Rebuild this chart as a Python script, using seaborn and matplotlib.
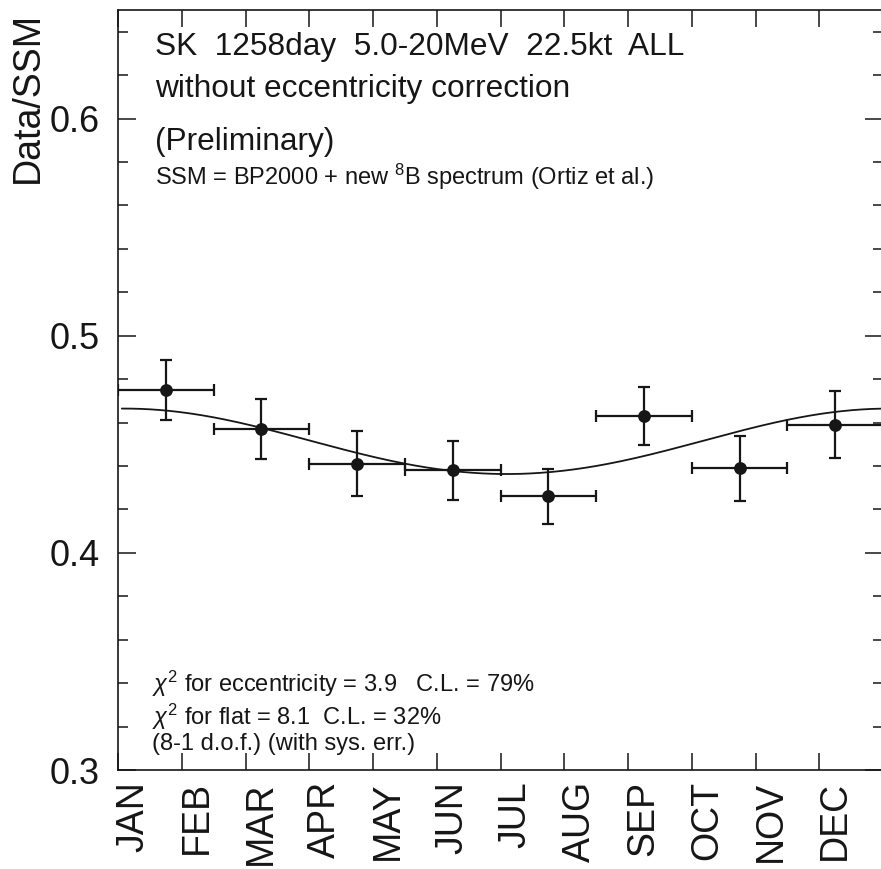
import numpy as np
import pandas as pd
import matplotlib
matplotlib.use("Agg")
import matplotlib.pyplot as plt
import seaborn as sns

# ---- data -------------------------------------------------------------
months = ["JAN", "FEB", "MAR", "APR", "MAY", "JUN",
          "JUL", "AUG", "SEP", "OCT", "NOV", "DEC"]

# eight 1.5-month bins (bin centre in months since Jan 1)
bin_center = [0.75, 2.25, 3.75, 5.25, 6.75, 8.25, 9.75, 11.25]
bin_halfwidth = [0.75] * 8
ratio = [0.475, 0.457, 0.441, 0.438, 0.426, 0.463, 0.439, 0.459]
ratio_err = [0.014, 0.014, 0.015, 0.0135, 0.0125, 0.0135, 0.015, 0.0155]

# expected 1/r^2 modulation from the Earth's orbital eccentricity
norm = 0.451
eccentricity = 0.0167
perihelion_month = 0.1   # ~ Jan 3

title_lines = [
    "SK  1258day  5.0-20MeV  22.5kt  ALL",
    "without eccentricity correction",
    "(Preliminary)",
]
ssm_line = r"SSM = BP2000 + new $^{8}$B spectrum (Ortiz et al.)"
chi_lines = [
    r"$\chi^2$ for eccentricity = 3.9   C.L. = 79%",
    r"$\chi^2$ for flat = 8.1  C.L. = 32%",
    "(8-1 d.o.f.) (with sys. err.)",
]

df = pd.DataFrame({"month": bin_center, "dx": bin_halfwidth,
                   "ratio": ratio, "err": ratio_err})

t = np.linspace(0.06, 12.0, 400)
curve = pd.DataFrame({
    "month": t,
    "ratio": norm / (1 - eccentricity * np.cos(2 * np.pi * (t - perihelion_month) / 12)) ** 2,
})

# ---- style ------------------------------------------------------------
sns.set_style("ticks")
plt.rcParams["font.family"] = ["Liberation Sans", "DejaVu Sans"]
plt.rcParams["mathtext.fontset"] = "custom"
plt.rcParams["mathtext.rm"] = "Liberation Sans"
plt.rcParams["mathtext.it"] = "Liberation Sans:italic"
ink = "#161616"

W, H = 881, 869
fig = plt.figure(figsize=(W / 100, H / 100), dpi=100)
fig.patch.set_facecolor("white")
ax = fig.add_axes([118 / W, (H - 770) / H, 765 / W, 760 / H])
ax.set_facecolor("white")

# model curve
sns.lineplot(data=curve, x="month", y="ratio", ax=ax, color=ink,
             linewidth=1.3, legend=False)

# data with error bars
ax.errorbar(df["month"], df["ratio"], xerr=df["dx"], yerr=df["err"],
            fmt="none", ecolor=ink, elinewidth=1.6, capsize=4.5,
            capthick=1.6, zorder=3)
sns.scatterplot(data=df, x="month", y="ratio", ax=ax, color=ink,
                s=85, edgecolor=ink, linewidth=0, zorder=4, legend=False)

# ---- axes -------------------------------------------------------------
ax.set_xlim(0, 12)
ax.set_ylim(0.3, 0.65)
for sp in ax.spines.values():
    sp.set_linewidth(1.2)
    sp.set_color(ink)
    sp.set_visible(True)

ax.set_xticks(np.arange(0, 13))
ax.set_xticklabels([])
ax.set_xticks(np.arange(12) + 0.24, minor=True)
ax.set_xticklabels(months, minor=True, rotation=90, fontsize=27, color=ink)
ax.tick_params(axis="x", which="major", direction="in", length=12,
               width=1.1, top=True, bottom=True, color=ink)
ax.tick_params(axis="x", which="minor", length=0, pad=8)

ax.set_yticks([0.3, 0.4, 0.5, 0.6])
ax.set_yticklabels(["0.3", "0.4", "0.5", "0.6"], fontsize=26, color=ink)
ax.set_yticks(np.arange(0.30, 0.651, 0.02), minor=True)
ax.tick_params(axis="y", which="major", direction="in", length=13,
               width=1.1, left=True, right=True, pad=13, color=ink)
ax.tick_params(axis="y", which="minor", direction="in", length=7,
               width=1.1, left=True, right=True, color=ink)
ax.set_xlabel("")
ax.set_ylabel("")

fig.text(28 / W, 1 - 12 / H, "Data/SSM", rotation=90, ha="center",
         va="top", fontsize=27, color=ink)

# ---- annotations ------------------------------------------------------
x0 = (155 - 118) / 765
for txt, yb in zip(title_lines, [0.9408, 0.8855, 0.8158]):
    ax.text(x0, yb, txt, transform=ax.transAxes, fontsize=22.8,
            va="baseline", ha="left", color=ink)
ax.text(x0, 0.7697, ssm_line, transform=ax.transAxes, fontsize=17,
        va="baseline", ha="left", color=ink)

x1 = (152 - 118) / 765
for txt, yb in zip(chi_lines, [0.1026, 0.0592, 0.0263]):
    ax.text(x1, yb, txt, transform=ax.transAxes, fontsize=17,
            va="baseline", ha="left", color=ink)

fig.savefig("out.png", dpi=100, facecolor="white")
